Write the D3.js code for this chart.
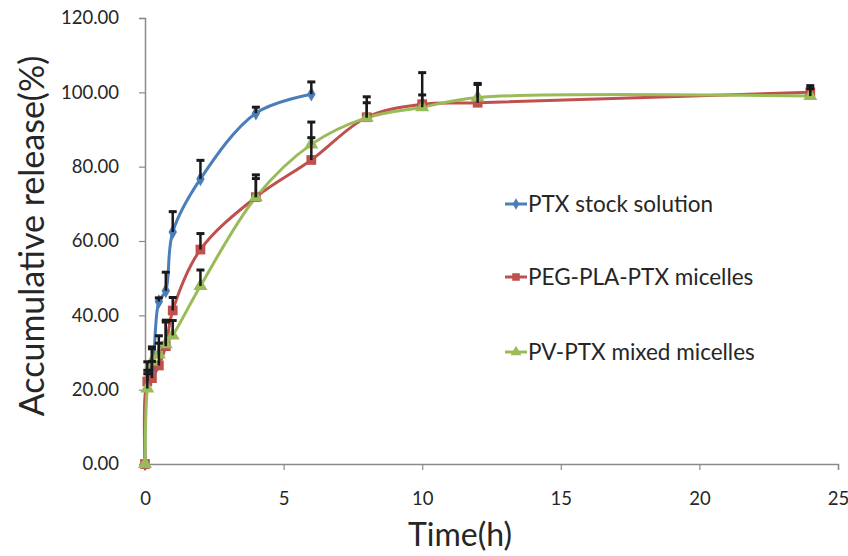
<!DOCTYPE html>
<html>
<head>
<meta charset="utf-8">
<script src="https://cdn.jsdelivr.net/npm/d3@7/dist/d3.min.js"></script>
<style>
  html, body { margin: 0; padding: 0; background: #fff; }
  svg { display: block; }
  text { font-family: Lato, "Open Sans", sans-serif; fill: #262626; }
</style>
</head>
<body>
<svg id="chart" width="848" height="556"></svg>
<script>
// ---- data ----
const timesPTX = [0, 0.083, 0.25, 0.5, 0.75, 1, 2, 4, 6];
const ptxStock = [0, 22.5, 25.0, 43.7, 46.6, 62.4, 76.7, 94.4, 99.5];
const ptxStockErr = [0, 5, 6, 1, 5, 5.5, 5, 1.6, 3.3];

const timesMic = [0, 0.083, 0.25, 0.5, 0.75, 1, 2, 4, 6, 8, 10, 12, 24];
const pegPla = [0, 22.2, 23.1, 26.5, 31.7, 41.3, 57.7, 71.8, 81.8, 93.3, 96.8, 97.2, 100.0];
const pegPlaErr = [0, 3, 4.5, 6, 7, 3.5, 4.3, 6, 6, 5.5, 8.5, 5.2, 1.8];
const pvMixed = [0, 20.3, 27.5, 29.5, 32.2, 34.6, 47.9, 71.8, 86.0, 93.2, 96.0, 98.6, 99.0];
const pvMixedErr = [0, 4, 4, 5, 6, 4, 4.3, 5, 6, 4, 3.3, 3.5, 2];

const seriesNames = ["PTX stock solution", "PEG-PLA-PTX micelles", "PV-PTX mixed micelles"];
const xTicks = [0, 5, 10, 15, 20, 25];
const yTicks = [0, 20, 40, 60, 80, 100, 120];
const xTitle = "Time(h)";
const yTitle = "Accumulative release(%)";

// ---- layout ----
const svg = d3.select("#chart");
const m = { left: 145, right: 838, top: 18, bottom: 464 };
const x = d3.scaleLinear().domain([0, 25]).range([m.left, m.right]);
const y = d3.scaleLinear().domain([0, 120]).range([m.bottom, m.top]);

const colors = ["#4A7EBB", "#C0504D", "#9BBB59"];
const shapes = [d3.symbolDiamond, d3.symbolSquare, d3.symbolTriangle];
const symSizes = [62, 95, 85];

const series = [
  { name: seriesNames[0], t: timesPTX, v: ptxStock, e: ptxStockErr },
  { name: seriesNames[1], t: timesMic, v: pegPla, e: pegPlaErr },
  { name: seriesNames[2], t: timesMic, v: pvMixed, e: pvMixedErr }
].map((s, i) => ({ ...s, pts: s.t.map((t, j) => ({ t, v: s.v[j], e: s.e[j] })), color: colors[i], shape: shapes[i], size: symSizes[i] }));

// ---- axes ----
const axisColor = "#8a8a8a";
const yAxis = svg.append("g").attr("transform", `translate(${m.left},0)`)
  .call(d3.axisLeft(y).tickValues(yTicks).tickSize(6).tickPadding(20).tickFormat(d3.format(".2f")));
const xAxis = svg.append("g").attr("transform", `translate(0,${m.bottom})`)
  .call(d3.axisBottom(x).tickValues(xTicks).tickSize(6).tickPadding(22).tickFormat(d3.format("d")));
[yAxis, xAxis].forEach(a => {
  a.select(".domain").attr("stroke", axisColor).attr("stroke-width", 1.5);
  a.selectAll(".tick line").attr("stroke", axisColor).attr("stroke-width", 1.2);
  a.selectAll(".tick text").style("font-size", "18.5px").style("fill", "#262626");
});

// ---- lines ----
const line = d3.line().x(d => x(d.t)).y(d => y(d.v)).curve(d3.curveCatmullRom.alpha(0.5));
series.forEach(s => {
  svg.append("path").datum(s.pts).attr("d", line)
    .attr("fill", "none").attr("stroke", s.color).attr("stroke-width", 3);
});

// ---- markers ----
series.forEach(s => {
  const sym = d3.symbol().type(s.shape).size(s.size);
  svg.append("g").selectAll("path").data(s.pts).join("path")
    .attr("d", sym)
    .attr("transform", d => `translate(${x(d.t)},${y(d.v)})`)
    .attr("fill", s.color);
});

// ---- error bars (upper only) ----
series.forEach(s => {
  const g = svg.append("g").attr("stroke", "#1a1a1a");
  s.pts.filter(d => d.e > 0).forEach(d => {
    const cx = x(d.t), y0 = y(d.v), y1 = y(d.v + d.e);
    g.append("line").attr("x1", cx).attr("x2", cx).attr("y1", y0).attr("y2", y1).attr("stroke-width", 2.5);
    g.append("line").attr("x1", cx - 4).attr("x2", cx + 4).attr("y1", y1).attr("y2", y1).attr("stroke-width", 3);
  });
});

// ---- legend ----
const legY = [204, 277, 352];
series.forEach((s, i) => {
  const g = svg.append("g").attr("transform", `translate(505,${legY[i]})`);
  g.append("line").attr("x1", 0).attr("x2", 22).attr("y1", 0).attr("y2", 0)
    .attr("stroke", s.color).attr("stroke-width", 3);
  g.append("path").attr("d", d3.symbol().type(s.shape).size(s.size * 0.6))
    .attr("transform", "translate(11,0)").attr("fill", s.color);
  g.append("text").attr("x", 23).attr("y", 0).attr("dy", "0.35em")
    .style("font-size", "22.5px").text(s.name);
});

// ---- titles ----
svg.append("text").attr("x", 460).attr("y", 535).attr("text-anchor", "middle")
  .attr("dy", "0.35em").style("font-size", "32px").text(xTitle);
svg.append("text").attr("transform", "translate(32,236) rotate(-90)").attr("text-anchor", "middle")
  .attr("dy", "0.35em").style("font-size", "34px").text(yTitle);
</script>
</body>
</html>
